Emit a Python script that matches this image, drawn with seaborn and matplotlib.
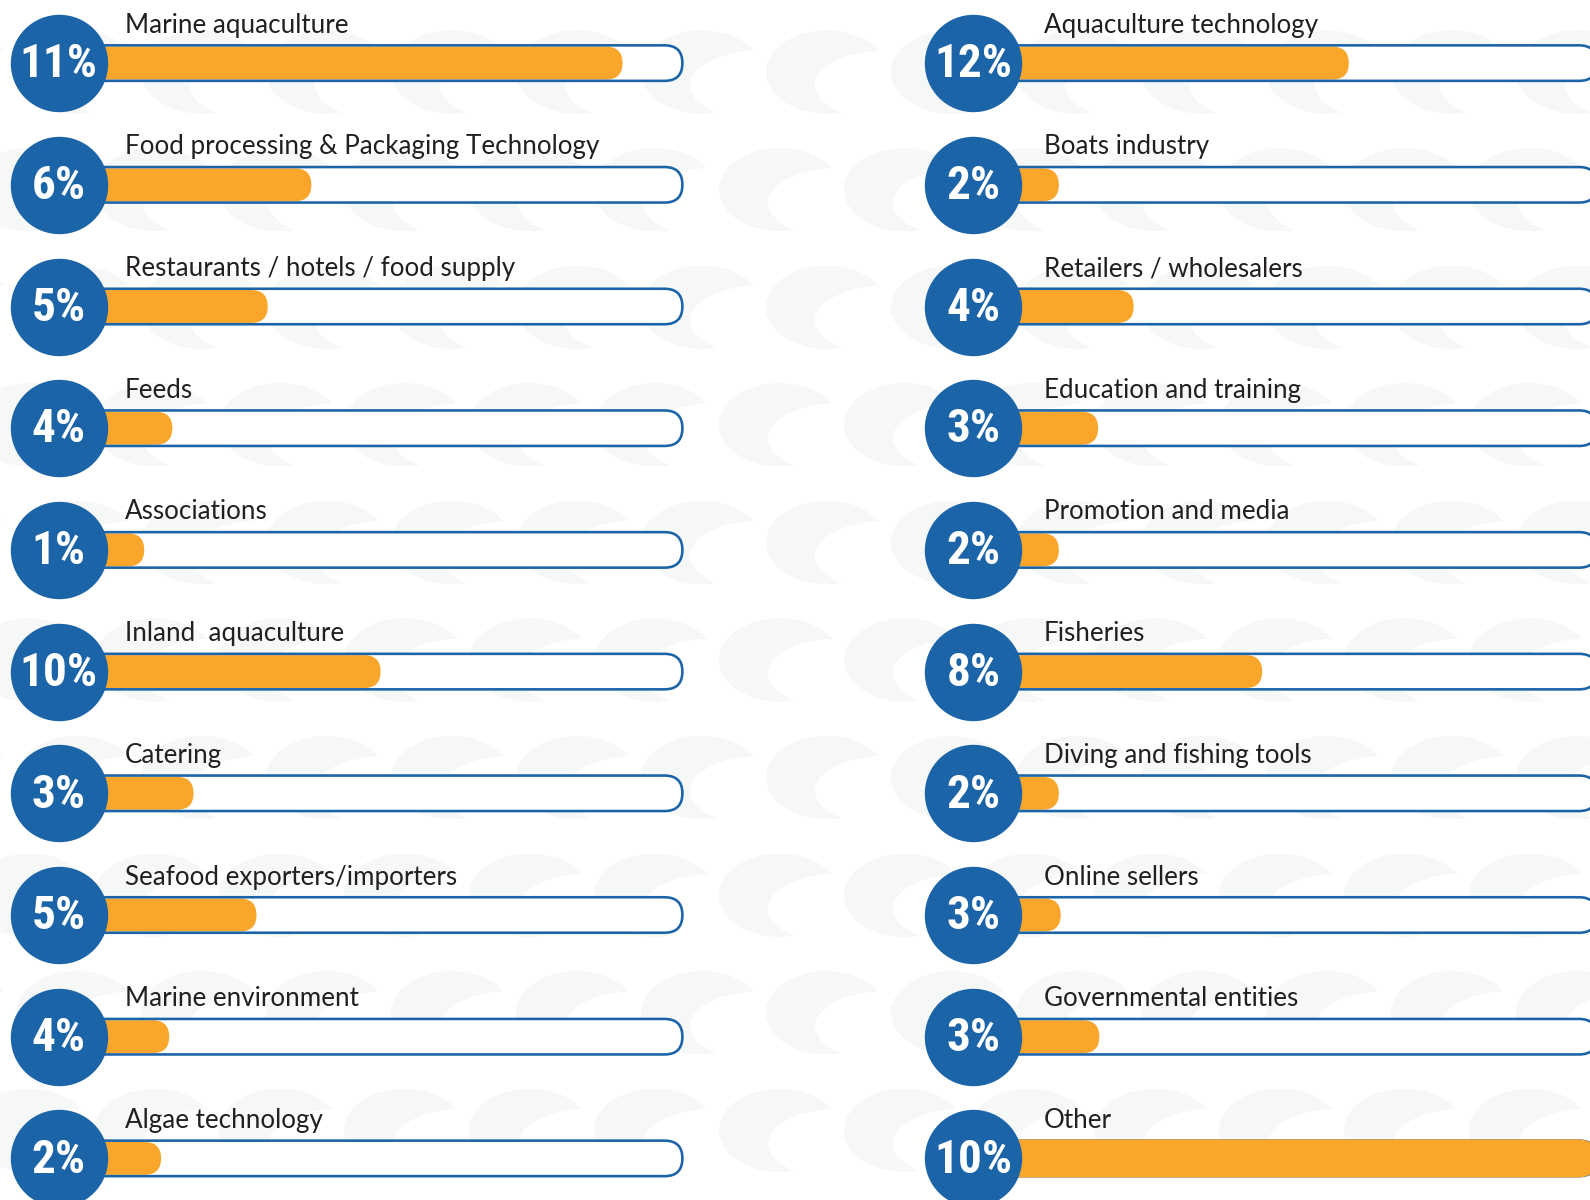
import os
import numpy as np
import pandas as pd
import matplotlib
matplotlib.use("Agg")
import matplotlib.pyplot as plt
from matplotlib.patches import FancyBboxPatch
from matplotlib import font_manager as fm
import seaborn as sns

# ---------------- data ----------------
left_labels = ["Marine aquaculture", "Food processing & Packaging Technology",
               "Restaurants / hotels / food supply", "Feeds", "Associations",
               "Inland  aquaculture", "Catering", "Seafood exporters/importers",
               "Marine environment", "Algae technology"]
left_pct = [11, 6, 5, 4, 1, 10, 3, 5, 4, 2]
# bar fill as fraction of the track
left_fill = [0.904, 0.405, 0.335, 0.182, 0.137, 0.516, 0.216, 0.317, 0.177, 0.164]

right_labels = ["Aquaculture technology", "Boats industry", "Retailers / wholesalers",
                "Education and training", "Promotion and media", "Fisheries",
                "Diving and fishing tools", "Online sellers", "Governmental entities", "Other"]
right_pct = [12, 2, 4, 3, 2, 8, 2, 3, 3, 10]
right_fill = [0.602, 0.137, 0.257, 0.200, 0.137, 0.463, 0.137, 0.140, 0.202, 1.0]

# ---------------- style / layout ----------------
W, H = 1590, 1200
DPI = 100
ROW0, ROW_STEP = 63.1, 121.7          # px
TRACK_LEN = 623.6                      # px, from circle centre to track end
TRACK_H = 35.5                         # px
OUTLINE_PX = 2.6
CIRCLE_D = 97.4                        # px
BLUE = "#1c64a8"
ORANGE = "#f9a62b"
TXT = "#231f20"
BG_GREY = np.array([0xf6, 0xf8, 0xf7]) / 255.0

sns.set_theme(style="white")
plt.rcParams["font.family"] = ["Lato", "DejaVu Sans"]


def _weight(f):
    w = f.weight
    if isinstance(w, str):
        w = {"bold": 700, "black": 900, "heavy": 800, "semibold": 600,
             "demibold": 600, "extra bold": 800, "ultrabold": 800}.get(w.lower(), 400)
    return w


def pick_pct_font():
    prefs = ["Liberation Sans Narrow", "Roboto Condensed", "DejaVu Sans Condensed",
             "Noto Sans Condensed", "Open Sans Condensed"]
    cands = []
    for f in fm.fontManager.ttflist:
        nm = f.name + " " + os.path.basename(f.fname)
        cond = ("Narrow" in nm or "Condensed" in nm or
                f.stretch in ("condensed", "semi-condensed", "extra-condensed", "ultra-condensed"))
        if cond and _weight(f) >= 700 and f.style == "normal" and "Italic" not in nm:
            rank = next((i for i, p in enumerate(prefs) if p.lower() in nm.lower()), len(prefs))
            cands.append((rank, -_weight(f), f.fname))
    if cands:
        cands.sort()
        return fm.FontProperties(fname=cands[0][2], size=34), True
    return fm.FontProperties(family=["Roboto", "DejaVu Sans"], weight="bold", size=29), False


PCT_FONT, _cond = pick_pct_font()

fig = plt.figure(figsize=(W / DPI, H / DPI), dpi=DPI)
fig.patch.set_facecolor("white")

# ---------------- background crescent pattern ----------------
img = np.ones((H, W, 3))
yy, xx = np.mgrid[0:H, 0:W] + 0.5
mask = np.zeros((H, W), dtype=bool)
for k in range(-1, 11):
    top = 32 + 117.6 * k
    base = 766 if k % 2 == 0 else 719
    for n in range(-7, 8):
        x0 = base + 125 * n
        xa, xb = int(max(0, x0 - 5)), int(min(W, x0 + 200))
        ya, yb = int(max(0, top - 5)), int(min(H, top + 95))
        if xa >= xb or ya >= yb:
            continue
        sx = xx[ya:yb, xa:xb]
        sy = yy[ya:yb, xa:xb]
        outer = ((sx - (x0 + 60.7)) / 60.7) ** 2 + ((sy - (top + 40)) / 41.7) ** 2 <= 1
        inner = ((sx - (x0 + 120.7)) / 71.7) ** 2 + ((sy - (top + 53.3)) / 35.0) ** 2 <= 1
        mask[ya:yb, xa:xb] |= outer & ~inner
img[mask] = BG_GREY

bg = fig.add_axes([0, 0, 1, 1], zorder=0)
bg.imshow(img, extent=(0, W, H, 0), interpolation="bilinear", aspect="auto")
bg.set_xlim(0, W)
bg.set_ylim(H, 0)
bg.axis("off")


def draw_column(labels, pct, fill, cx_px, label_dx_px, zo):
    ax = fig.add_axes([0, 0, 1, 1], zorder=zo)
    ax.patch.set_alpha(0)
    th = TRACK_H / ROW_STEP
    inner_h = (TRACK_H - OUTLINE_PX) / ROW_STEP
    df = pd.DataFrame({"label": labels, "fill": fill, "pct": pct})
    sns.barplot(data=df, x="fill", y="label", orient="h", color=ORANGE,
                saturation=1, width=inner_h, ax=ax, errorbar=None)
    xlim = (-cx_px / TRACK_LEN, (W - cx_px) / TRACK_LEN)
    ylim = ((H - ROW0) / ROW_STEP, -ROW0 / ROW_STEP)

    asp = TRACK_LEN / ROW_STEP
    rnd = (TRACK_H / 2) / TRACK_LEN
    lw_pt = OUTLINE_PX * 72 / DPI

    bars = list(ax.patches)
    for i, rect in enumerate(bars):
        x, y = rect.get_xy()
        w, h = rect.get_width(), rect.get_height()
        yc = y + h / 2
        rect.remove()
        # track (white face + blue outline)
        ax.add_patch(FancyBboxPatch((0, yc - th / 2), 1, th,
                                    boxstyle=f"round,pad=0,rounding_size={rnd}",
                                    mutation_aspect=asp, fc="white", ec="none", zorder=1))
        ax.add_patch(FancyBboxPatch((0, yc - th / 2), 1, th,
                                    boxstyle=f"round,pad=0,rounding_size={rnd}",
                                    mutation_aspect=asp, fc="none", ec=BLUE,
                                    lw=lw_pt, zorder=3))
        full = w >= 1
        hh = th + OUTLINE_PX / ROW_STEP if full else h
        rr = (hh * ROW_STEP / 2) / TRACK_LEN
        ax.add_patch(FancyBboxPatch((x, yc - hh / 2), w, hh,
                                    boxstyle=f"round,pad=0,rounding_size={rr}",
                                    mutation_aspect=asp, fc=ORANGE, ec="none",
                                    zorder=4 if full else 2))

    n = len(labels)
    s = (CIRCLE_D * 72 / DPI) ** 2
    ax.scatter([0] * n, list(range(n)), s=s, color=BLUE, linewidths=0, zorder=5)
    for i, (lab, p) in enumerate(zip(labels, pct)):
        ax.text(0, i + 0.01, f"{p}%", ha="center", va="center", color="white",
                fontproperties=PCT_FONT, zorder=6)
        ax.text(label_dx_px / TRACK_LEN, i - 30.5 / ROW_STEP, lab, ha="left",
                va="baseline", color=TXT, fontsize=18.7, zorder=6)

    ax.set_xlim(*xlim)
    ax.set_ylim(*ylim)
    ax.axis("off")
    return ax


draw_column(left_labels, left_pct, left_fill, 58.8, 65.9, 2)
draw_column(right_labels, right_pct, right_fill, 973.4, 70.6, 3)

fig.savefig("out.png", dpi=DPI, facecolor="white")
